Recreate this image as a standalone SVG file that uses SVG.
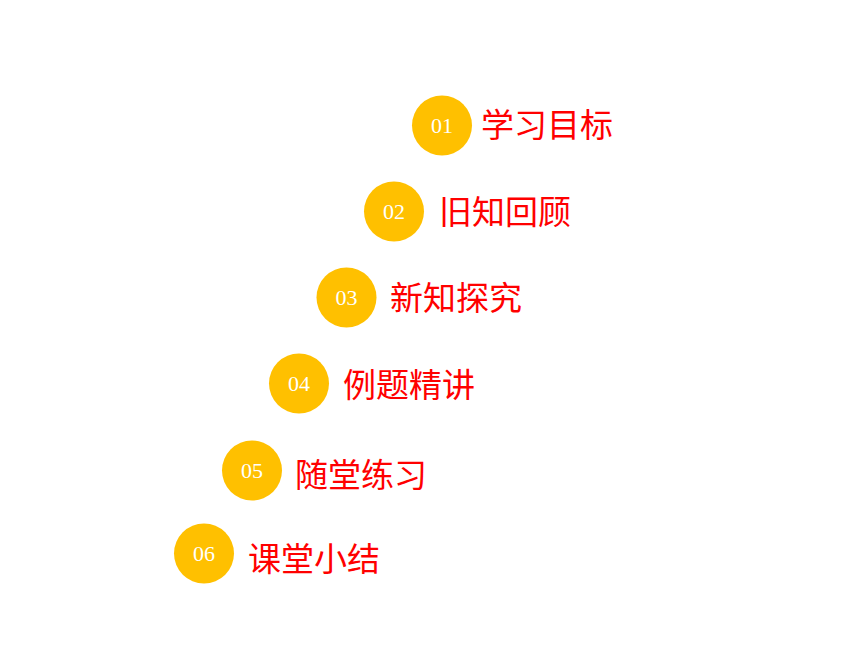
<svg xmlns="http://www.w3.org/2000/svg" width="860" height="645" viewBox="0 0 860 645">
<style>
.c{fill:#FFC000}
.n{font-family:"Liberation Serif",serif;font-size:22px;fill:#fff;text-anchor:middle}
.l{font-family:"Noto Sans CJK SC",sans-serif;font-size:33px;fill:#FF0000}
</style>
<rect width="860" height="645" fill="#fff"/>
<g id="connectors"/>
<g id="item1"><circle class="c" cx="442" cy="125.5" r="30"/><text class="n" x="442" y="133">01</text><text class="l" x="481" y="137">学习目标</text></g>
<g id="item2"><circle class="c" cx="394" cy="211.5" r="30"/><text class="n" x="394" y="219">02</text><text class="l" x="439" y="224">旧知回顾</text></g>
<g id="item3"><circle class="c" cx="346.5" cy="297.5" r="30"/><text class="n" x="346.5" y="305">03</text><text class="l" x="390" y="310">新知探究</text></g>
<g id="item4"><circle class="c" cx="299" cy="383.5" r="30"/><text class="n" x="299" y="391">04</text><text class="l" x="343" y="397">例题精讲</text></g>
<g id="item5"><circle class="c" cx="252" cy="470.5" r="30"/><text class="n" x="252" y="478">05</text><text class="l" x="295" y="487">随堂练习</text></g>
<g id="item6"><circle class="c" cx="204" cy="553.5" r="30"/><text class="n" x="204" y="561">06</text><text class="l" x="248" y="571">课堂小结</text></g>
</svg>
